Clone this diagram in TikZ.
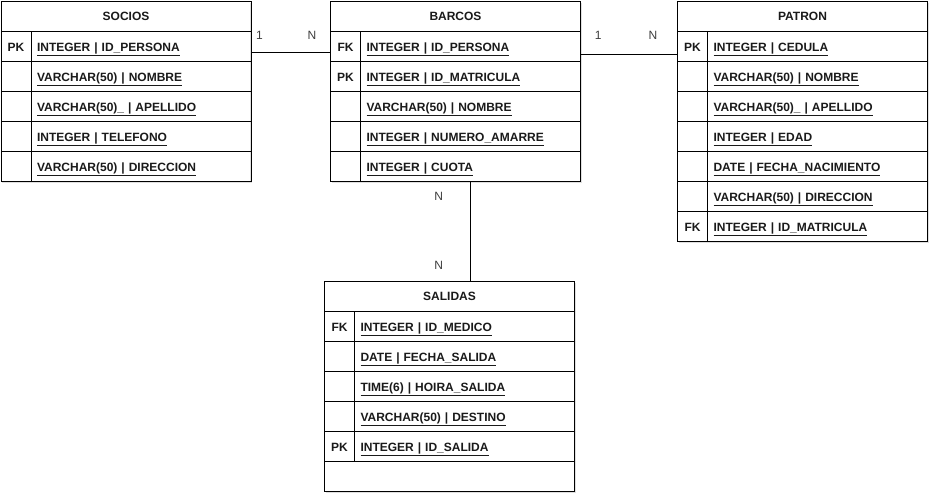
\documentclass[tikz,border=0pt]{standalone}
\usepackage{fontspec}
\setmainfont{Liberation Sans}
\usepackage{tikz}
\usetikzlibrary{shadows}
\definecolor{ink}{HTML}{1A1A1A}
\definecolor{card}{HTML}{3D3D3D}
\tikzset{
  erFont/.style={font=\fontsize{12}{14}\selectfont\bfseries, text=ink},
  erHead/.style={draw=black, line width=1pt, minimum width=250pt, minimum height=30pt,
    anchor=north west, inner sep=0pt, erFont},
  erKey/.style={draw=black, line width=1pt, minimum width=30pt, minimum height=30pt,
    text height=11pt, text depth=1pt, anchor=north west, inner sep=0pt, erFont},
  erField/.style={draw=black, line width=1pt, text width=208pt, inner xsep=6pt, inner ysep=0pt,
    minimum height=30pt, text height=11pt, text depth=1pt, align=left, anchor=north west, erFont},
  erShadow/.style={fill=white, drop shadow={shadow xshift=2pt, shadow yshift=-2pt, opacity=0.25}},
  relLine/.style={draw=black, line width=1pt},
  relCard/.style={font=\fontsize{12}{14}\selectfont, text=card, inner sep=0pt}
}

\begin{document}
\begin{tikzpicture}[x=1pt, y=-1pt]
  \useasboundingbox (0,0) rectangle (939,502);

  % shadows under the tables
  \path[erShadow] (0,1) rectangle (250,181);
  \path[erShadow] (330,1) rectangle (580,181);
  \path[erShadow] (677,1) rectangle (927,241);
  \path[erShadow] (324,281) rectangle (574,491);

  % SOCIOS
  \node[erHead] (socios) at (0.5,1) {SOCIOS};
  \foreach \k/\f [count=\i] in {PK/{INTEGER | ID\_PERSONA}, /{VARCHAR(50) | NOMBRE},
      /{VARCHAR(50)\_ | APELLIDO}, /{INTEGER | TELEFONO}, /{VARCHAR(50) | DIRECCION}} {
    \node[erKey] (socios-\i k) at (0.5,{1+30*\i}) {\k};
    \node[erField] (socios-\i) at (30.5,{1+30*\i}) {\underline{\f}};
  }

  % BARCOS
  \node[erHead] (barcos) at (330,1) {BARCOS};
  \foreach \k/\f [count=\i] in {FK/{INTEGER | ID\_PERSONA}, PK/{INTEGER | ID\_MATRICULA},
      /{VARCHAR(50) | NOMBRE}, /{INTEGER | NUMERO\_AMARRE}, /{INTEGER | CUOTA}} {
    \node[erKey] (barcos-\i k) at (330,{1+30*\i}) {\k};
    \node[erField] (barcos-\i) at (360,{1+30*\i}) {\underline{\f}};
  }

  % PATRON
  \node[erHead] (patron) at (677,1) {PATRON};
  \foreach \k/\f [count=\i] in {PK/{INTEGER | CEDULA}, /{VARCHAR(50) | NOMBRE},
      /{VARCHAR(50)\_ | APELLIDO}, /{INTEGER | EDAD}, /{DATE | FECHA\_NACIMIENTO},
      /{VARCHAR(50) | DIRECCION}, FK/{INTEGER | ID\_MATRICULA}} {
    \node[erKey] (patron-\i k) at (677,{1+30*\i}) {\k};
    \node[erField] (patron-\i) at (707,{1+30*\i}) {\underline{\f}};
  }

  % SALIDAS
  \node[erHead] (salidas) at (324,281) {SALIDAS};
  \foreach \k/\f [count=\i] in {FK/{INTEGER | ID\_MEDICO}, /{DATE | FECHA\_SALIDA},
      /{TIME(6) | HOIRA\_SALIDA}, /{VARCHAR(50) | DESTINO}, PK/{INTEGER | ID\_SALIDA}} {
    \node[erKey] (salidas-\i k) at (324,{281+30*\i}) {\k};
    \node[erField] (salidas-\i) at (354,{281+30*\i}) {\underline{\f}};
  }
  \node[erHead] (salidas-6) at (324,461) {};

  % relations
  \draw[relLine] ([yshift=-6pt]socios-1.east) -- ([yshift=-6pt]barcos-1k.west)
    node[relCard, pos=0.1, above=12pt] {1}
    node[relCard, pos=0.77, above=12pt] {N};
  \draw[relLine] ([yshift=-8pt]barcos-1.east) -- ([yshift=-8pt]patron-1k.west)
    node[relCard, pos=0.18, above=14pt] {1}
    node[relCard, pos=0.75, above=14pt] {N};
  \draw[relLine] (barcos-5.south) -- (barcos-5.south |- salidas.north)
    node[relCard, pos=0.15, left=27pt] {N}
    node[relCard, pos=0.84, left=27pt] {N};
\end{tikzpicture}
\end{document}
